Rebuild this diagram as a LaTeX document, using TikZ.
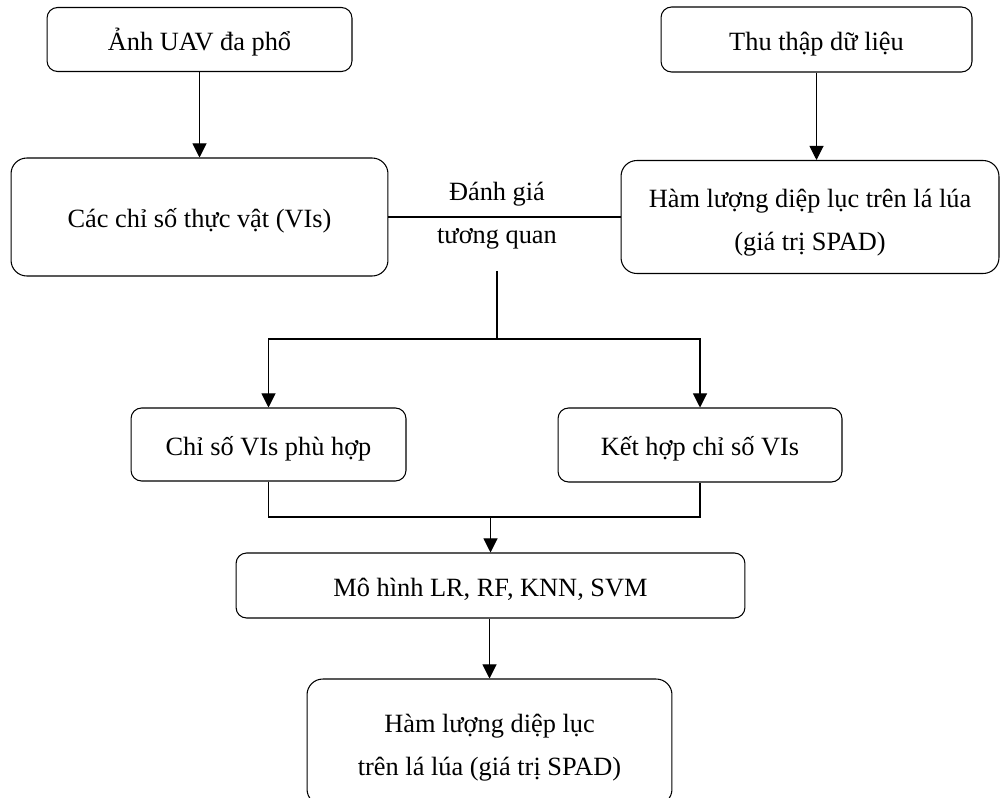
\documentclass[tikz,border=0pt]{standalone}
\usepackage{fontspec}
\setmainfont{Liberation Serif}
\usepackage{tikz}
\usetikzlibrary{positioning,arrows.meta}
\tikzset{box node/.style={rectangle,rounded corners=6pt,draw,line width=0.6pt,align=center,inner sep=0pt},
	big node/.style={box node,rounded corners=9pt},
	one line/.style={text height=16pt,text depth=3.5pt},
	two lines/.style={text height=38pt,text depth=0pt},
	arr/.style={-{Triangle[length=8pt,width=8pt]}},}

\begin{document}
\begin{tikzpicture}[x=0.02cm,y=-0.02cm,line width=0.6pt,font=\fontsize{15}{24.4}\selectfont]
	\useasboundingbox (0,0) rectangle (1001,798);

	% upper row
	\node[box node,one line,minimum width=6.1cm,minimum height=1.28cm] (anh) at (199.5,39.5) {Ảnh UAV đa phổ};
	\node[box node,one line,minimum width=6.22cm,minimum height=1.3cm] (thu) at (816.5,39.5) {Thu thập dữ liệu};
	\node[big node,one line,minimum width=7.54cm,minimum height=2.36cm] (chiso) at (199.5,217) {Các chỉ số thực vật (VIs)};
	\node[big node,two lines,minimum width=7.56cm,minimum height=2.26cm] (ham) at (810,217) {Hàm lượng diệp lục trên lá lúa\\(giá trị SPAD)};
	\node (danhgia) at (497,216) [align=center] {Đánh giá\\tương quan};

	% middle row
	\node[box node,one line,minimum width=5.5cm,minimum height=1.46cm] (phuhop) at (268.5,444.5) {Chỉ số VIs phù hợp};
	\node[box node,one line,minimum width=5.68cm,minimum height=1.48cm] (kethop) at (700,445) {Kết hợp chỉ số VIs};
	\coordinate (tach) at (497,339);
	\coordinate (gop) at (490.5,517);

	% lower row
	\node[box node,one line,minimum width=10.18cm,minimum height=1.3cm] (mohinh) at (490.5,585.5) {Mô hình LR, RF, KNN, SVM};
	\node[big node,two lines,minimum width=7.3cm,minimum height=2.52cm] (ketqua) at (489.5,742) {Hàm lượng diệp lục\\trên lá lúa (giá trị SPAD)};

	\path[draw]
	(anh) edge[arr] (chiso)
	(thu) edge[arr] (thu |- ham.north)
	(chiso) edge (ham)
	([yshift=-0.3cm]danhgia.south) edge (tach)
	;
	\draw[arr] (tach) -| (phuhop);
	\draw[arr] (tach) -| (kethop);
	\draw (phuhop) |- (gop) -| (kethop);
	\draw[arr] (gop) -- (mohinh);
	\draw[arr] (mohinh.south -| ketqua.north) -- (ketqua);
	\end{tikzpicture}
\end{document}
